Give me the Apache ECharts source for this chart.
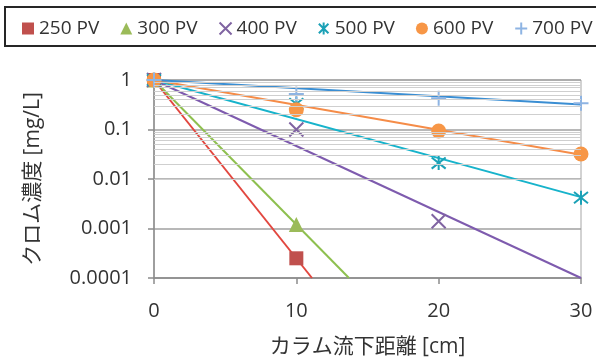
<!DOCTYPE html>
<html>
<head>
<meta charset="utf-8">
<script src="https://cdn.jsdelivr.net/npm/echarts@6/dist/echarts.min.js"></script>
<style>html,body{margin:0;padding:0;background:#fff}#c{width:596px;height:363px}</style>
</head>
<body>
<div id="c"></div>
<script>
// ---- data ----
const distances = [0, 10, 20, 30];
const seriesNames = ['250 PV', '300 PV', '400 PV', '500 PV', '600 PV', '700 PV'];
const pv250 = [1, 0.00025, null, null];
const pv300 = [1, 0.0012, null, null];
const pv400 = [1, 0.1, 0.0014, null];
const pv500 = [1, 0.33, 0.021, 0.0042];
const pv600 = [1, 0.25, 0.093, 0.032];
const pv700 = [1, 0.52, 0.43, 0.34];
// trend lines (exponential): start point and end point
const trendStartX = [0, 0, 0, 0, 0, 0];
const trendStartY = [1, 1, 1, 1, 1, 1];
const trendEndX = [11.1, 13.7, 30, 30, 30, 30];
const trendEndY = [0.0001, 0.0001, 0.0001, 0.0043, 0.031, 0.32];
const yTickLabels = ['0.0001', '0.001', '0.01', '0.1', '1'];
const xAxisTitle = 'カラム流下距離 [cm]';
const yAxisTitle = 'クロム濃度 [mg/L]';

// ---- styles ----
const markerColors = ['#C0504D', '#9BBB59', '#8064A2', '#1BA1B6', '#F79646', '#8EB4E3'];
const lineColors = ['#E2473F', '#8EC04F', '#7E5BAE', '#17B3CB', '#F58C48', '#3A8ED3'];
const symbols = [
  'rect', 'triangle',
  'path://M0,0L10,10M10,0L0,10',
  'path://M1,1L9,9M9,1L1,9M5,0L5,10',
  'circle',
  'path://M5,0L5,10M0,5L10,5'
];
const symbolSizes = [14, 15, 14, 14, 15, 15];
const strokeMarker = [false, false, true, true, false, true];
const allValues = [pv250, pv300, pv400, pv500, pv600, pv700];

const font = "'Open Sans','Noto Sans CJK JP',sans-serif";
const textColor = '#333333';

const series = [];
// minor grid lines
const minorVals = [];
for (let d = -4; d < 0; d++) {
  for (let k = 2; k <= 9; k++) minorVals.push({ yAxis: k * Math.pow(10, d) });
}
series.push({
  name: 'minor-grid', type: 'line', data: [], silent: true, z: 0,
  markLine: {
    silent: true, symbol: ['none', 'none'], label: { show: false },
    lineStyle: { color: '#CFCFCF', width: 1, type: 'solid' },
    emphasis: { disabled: true },
    animation: false,
    data: minorVals
  }
});
// trend lines
seriesNames.forEach((n, i) => {
  series.push({
    name: n + ' trend', type: 'line', z: 2, clip: true, silent: true,
    showSymbol: false, symbol: 'none',
    lineStyle: { color: lineColors[i], width: 2 },
    data: [[trendStartX[i], trendStartY[i]], [trendEndX[i], trendEndY[i]]]
  });
});
// markers
seriesNames.forEach((n, i) => {
  const pts = [];
  distances.forEach((x, j) => { if (allValues[i][j] != null) pts.push([x, allValues[i][j]]); });
  series.push({
    name: n, type: 'scatter', z: 3, clip: false,
    symbol: symbols[i], symbolSize: symbolSizes[i],
    itemStyle: strokeMarker[i]
      ? { color: markerColors[i], borderColor: markerColors[i], borderWidth: 2, opacity: 1 }
      : { color: markerColors[i], opacity: 1 },
    data: pts
  });
});

const chart = echarts.init(document.getElementById('c'), null, { renderer: 'canvas', width: 596, height: 363 });
chart.setOption({
  animation: false,
  backgroundColor: '#fff',
  graphic: [{
    type: 'rect', shape: { x: 5, y: 7, width: 620, height: 39 },
    style: { fill: 'none', stroke: '#262626', lineWidth: 2 }, silent: true
  }],
  legend: {
    data: seriesNames, left: 22, top: 19, padding: 0, width: 700,
    itemWidth: 12, itemHeight: 12, itemGap: 21, selectedMode: false,
    textStyle: { fontFamily: font, fontSize: 19, color: textColor }
  },
  grid: {
    left: 154, right: 15, top: 80, bottom: 83,
    show: true, borderColor: '#A6A6A6', borderWidth: 1
  },
  xAxis: {
    type: 'value', min: 0, max: 30, interval: 10,
    name: xAxisTitle, nameLocation: 'middle', nameGap: 59,
    nameTextStyle: { fontFamily: font, fontSize: 21, color: textColor },
    axisLine: { show: true, lineStyle: { color: '#8C8C8C', width: 1.5 } },
    axisTick: { show: true, length: 6, lineStyle: { color: '#8C8C8C', width: 1.5 } },
    axisLabel: { fontFamily: font, fontSize: 20, color: textColor, margin: 23 },
    splitLine: { show: false }
  },
  yAxis: {
    type: 'log', logBase: 10, min: 0.0001, max: 1,
    name: yAxisTitle, nameLocation: 'middle', nameGap: 110, nameRotate: 90,
    nameTextStyle: { fontFamily: font, fontSize: 21, color: textColor },
    axisLine: { show: true, lineStyle: { color: '#8C8C8C', width: 1.5 } },
    axisTick: { show: true, length: 6, lineStyle: { color: '#8C8C8C', width: 1.5 } },
    axisLabel: {
      fontFamily: font, fontSize: 20, color: textColor, margin: 22,
      formatter: v => yTickLabels[Math.round(Math.log10(v)) + 4]
    },
    splitLine: { show: true, lineStyle: { color: '#A0A0A0', width: 1.5 } }
  },
  series: series
});
</script>
</body>
</html>
